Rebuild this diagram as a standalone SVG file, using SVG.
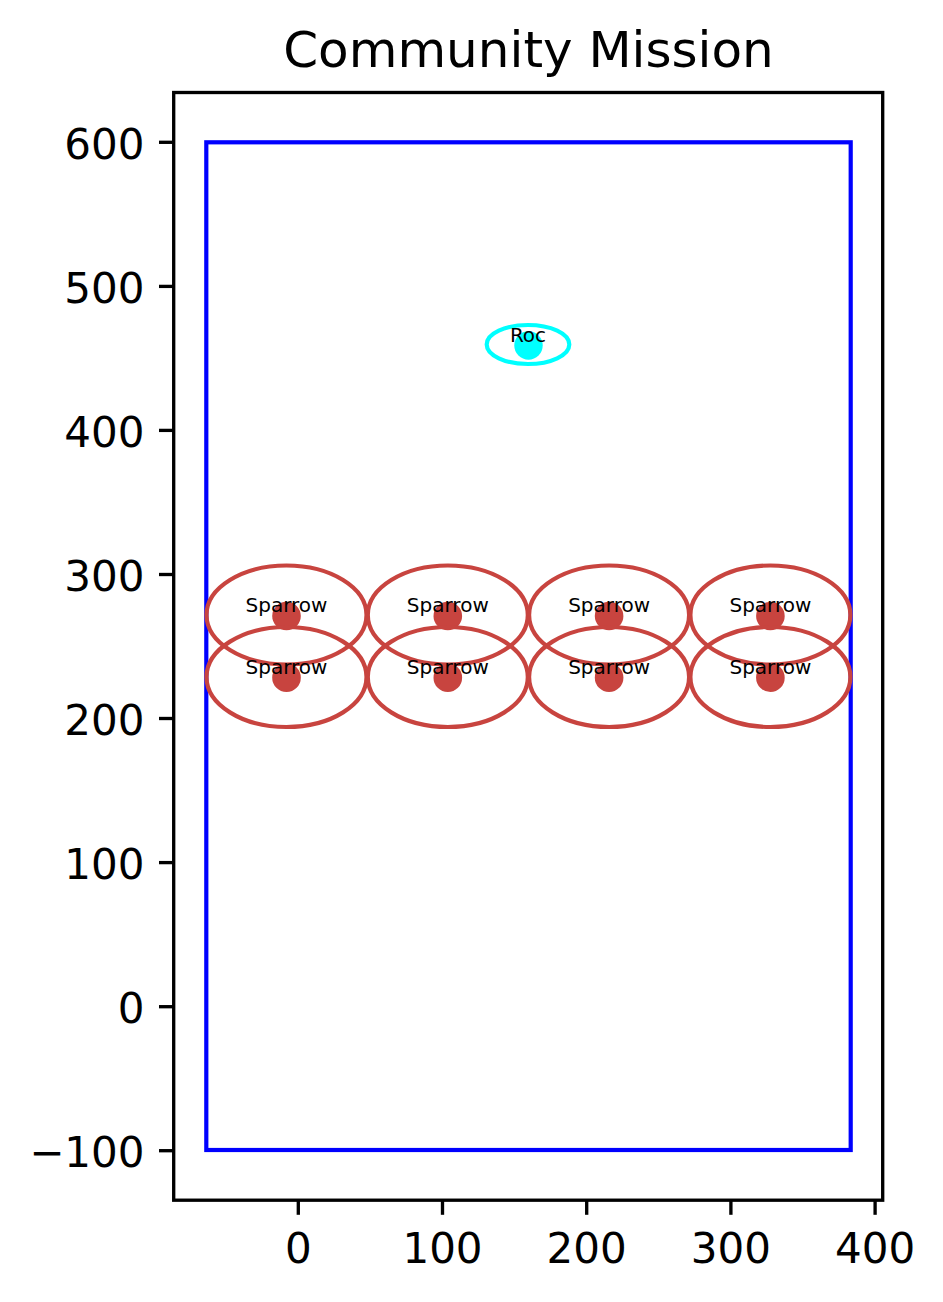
<svg xmlns="http://www.w3.org/2000/svg" width="943" height="1302" viewBox="0 0 943 1302">
<style>
text{font-family:"DejaVu Sans","Liberation Sans",sans-serif;fill:#000}
.tick{stroke:#000;stroke-width:3.33}
.tl{font-size:42px}
.yl{text-anchor:end}
.xl{text-anchor:middle}
.sp ellipse{fill:none;stroke:#c8443f;stroke-width:4.2}
.sp circle{fill:#c8443f}
.lbl{font-size:20px;text-anchor:middle}
</style>
<rect x="0" y="0" width="943" height="1302" fill="#fff"/>
<text x="528.5" y="67" font-size="50" text-anchor="middle">Community Mission</text>
<g id="boundary"><rect x="206.3" y="142.3" width="644.4" height="1007.7" fill="none" stroke="#0000ff" stroke-width="4.2"/></g>
<g id="roc"><ellipse cx="528" cy="344.5" rx="41.3" ry="19.5" fill="none" stroke="#00ffff" stroke-width="4.2"/><circle cx="528.5" cy="345.5" r="14.2" fill="#00ffff"/><text class="lbl" x="528" y="341.5">Roc</text></g>
<g id="sparrow1" class="sp"><ellipse cx="286.5" cy="615" rx="80" ry="49.5"/><circle cx="286.5" cy="616" r="14.3"/><text class="lbl" x="286.5" y="612">Sparrow</text></g>
<g id="sparrow2" class="sp"><ellipse cx="447.8" cy="615" rx="80" ry="49.5"/><circle cx="447.8" cy="616" r="14.3"/><text class="lbl" x="447.8" y="612">Sparrow</text></g>
<g id="sparrow3" class="sp"><ellipse cx="609.1" cy="615" rx="80" ry="49.5"/><circle cx="609.1" cy="616" r="14.3"/><text class="lbl" x="609.1" y="612">Sparrow</text></g>
<g id="sparrow4" class="sp"><ellipse cx="770.4" cy="615" rx="80" ry="49.5"/><circle cx="770.4" cy="616" r="14.3"/><text class="lbl" x="770.4" y="612">Sparrow</text></g>
<g id="sparrow5" class="sp"><ellipse cx="286.5" cy="677" rx="80" ry="50"/><circle cx="286.5" cy="677.7" r="14.3"/><text class="lbl" x="286.5" y="673.5">Sparrow</text></g>
<g id="sparrow6" class="sp"><ellipse cx="447.8" cy="677" rx="80" ry="50"/><circle cx="447.8" cy="677.7" r="14.3"/><text class="lbl" x="447.8" y="673.5">Sparrow</text></g>
<g id="sparrow7" class="sp"><ellipse cx="609.1" cy="677" rx="80" ry="50"/><circle cx="609.1" cy="677.7" r="14.3"/><text class="lbl" x="609.1" y="673.5">Sparrow</text></g>
<g id="sparrow8" class="sp"><ellipse cx="770.4" cy="677" rx="80" ry="50"/><circle cx="770.4" cy="677.7" r="14.3"/><text class="lbl" x="770.4" y="673.5">Sparrow</text></g>
<g id="connectors"></g>
<g id="axes">
<rect x="173.7" y="92.5" width="709" height="1107.7" fill="none" stroke="#000" stroke-width="3.33"/>
<g class="tick">
<line x1="159" y1="142.3" x2="173.7" y2="142.3"/>
<line x1="159" y1="286.4" x2="173.7" y2="286.4"/>
<line x1="159" y1="430.4" x2="173.7" y2="430.4"/>
<line x1="159" y1="574.5" x2="173.7" y2="574.5"/>
<line x1="159" y1="718.5" x2="173.7" y2="718.5"/>
<line x1="159" y1="862.6" x2="173.7" y2="862.6"/>
<line x1="159" y1="1006.7" x2="173.7" y2="1006.7"/>
<line x1="159" y1="1150.7" x2="173.7" y2="1150.7"/>
<line x1="298.3" y1="1200.2" x2="298.3" y2="1214.8"/>
<line x1="442.5" y1="1200.2" x2="442.5" y2="1214.8"/>
<line x1="586.7" y1="1200.2" x2="586.7" y2="1214.8"/>
<line x1="730.9" y1="1200.2" x2="730.9" y2="1214.8"/>
<line x1="875.1" y1="1200.2" x2="875.1" y2="1214.8"/>
</g>
<text class="tl yl" x="144.5" y="158.5">600</text>
<text class="tl yl" x="144.5" y="302.6">500</text>
<text class="tl yl" x="144.5" y="446.6">400</text>
<text class="tl yl" x="144.5" y="590.7">300</text>
<text class="tl yl" x="144.5" y="734.7">200</text>
<text class="tl yl" x="144.5" y="878.8">100</text>
<text class="tl yl" x="144.5" y="1022.9">0</text>
<text class="tl yl" x="144.5" y="1166.9">−100</text>
<text class="tl xl" x="298.3" y="1262.5">0</text>
<text class="tl xl" x="442.5" y="1262.5">100</text>
<text class="tl xl" x="586.7" y="1262.5">200</text>
<text class="tl xl" x="730.9" y="1262.5">300</text>
<text class="tl xl" x="875.1" y="1262.5">400</text>
</g>
</svg>
